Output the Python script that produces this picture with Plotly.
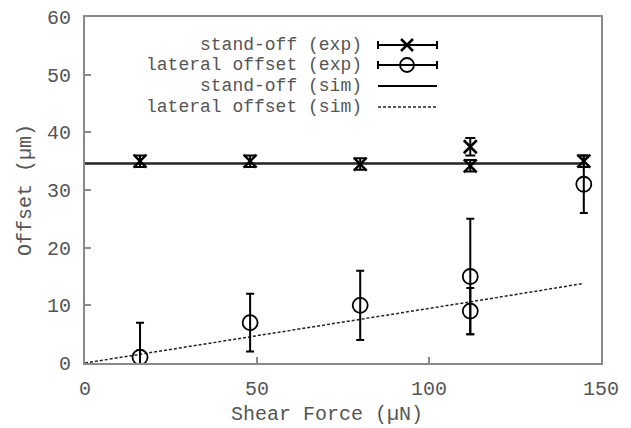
import plotly.graph_objects as go

# ---- data ----
standoff_x = [16, 48, 80, 112, 112, 145]
standoff_y = [35.0, 35.0, 34.5, 37.5, 34.2, 35.0]
standoff_err = [1.0, 1.0, 1.0, 1.5, 1.0, 1.0]

lateral_x = [16, 48, 80, 112, 112, 145]
lateral_y = [1.0, 7.0, 10.0, 15.0, 9.0, 31.0]
lateral_err = [6.0, 5.0, 6.0, 10.0, 4.0, 5.0]

sim_standoff_x = [0, 145]
sim_standoff_y = [34.6, 34.6]

sim_lateral_x = [0, 16, 48, 80, 112, 145]
sim_lateral_y = [0.0, 1.5, 4.5, 7.5, 10.6, 13.8]

legend_labels = ["stand-off (exp)", "lateral offset (exp)", "stand-off (sim)", "lateral offset (sim)"]

FONT = "Liberation Mono"
FS = 20
LFS = 18
TXT = "#555555"
AX = "#8a8a8a"

# page body has an 8px margin; target pixel positions below are in reference coords
OFF = 8
FIG_W, FIG_H = 631 - OFF, 428 - OFF

fig = go.Figure()

fig.add_trace(go.Scatter(x=sim_standoff_x, y=sim_standoff_y, mode="lines",
                         line=dict(color="#222222", width=2.5), showlegend=False))
fig.add_trace(go.Scatter(x=sim_lateral_x, y=sim_lateral_y, mode="lines",
                         line=dict(color="#222222", width=1.5, dash="3px,2px"), showlegend=False))
fig.add_trace(go.Scatter(x=standoff_x, y=standoff_y, mode="markers",
                         marker=dict(symbol="x-thin-open", size=13, color="black",
                                     line=dict(color="black", width=2.5)),
                         error_y=dict(type="data", array=standoff_err, color="black", thickness=2, width=5),
                         showlegend=False))
fig.add_trace(go.Scatter(x=lateral_x, y=lateral_y, mode="markers",
                         marker=dict(symbol="circle-open", size=15, color="black",
                                     line=dict(color="black", width=1.8)),
                         error_y=dict(type="data", array=lateral_err, color="black", thickness=2, width=4),
                         showlegend=False))

# plot area in reference pixel coords
W, H, L, T = 516, 346, 85, 17
def px(xp):
    return (xp - L) / W
def py(yp):
    return (T + H - yp) / H

rows = [45, 65, 86, 107]
text_right = 364
s0, s1, sc = 378, 437, 407
shapes = []
annotations = []
for i, (lab, yy) in enumerate(zip(legend_labels, rows)):
    annotations.append(dict(x=px(text_right), y=py(yy), xref="paper", yref="paper",
                            text=lab, showarrow=False, xanchor="right", yanchor="middle",
                            font=dict(family=FONT, size=LFS, color=TXT)))
    if i < 2:
        shapes.append(dict(type="line", xref="paper", yref="paper", x0=px(s0), x1=px(s1),
                           y0=py(yy), y1=py(yy), line=dict(color="black", width=2)))
        for xe in (s0, s1):
            shapes.append(dict(type="line", xref="paper", yref="paper", x0=px(xe), x1=px(xe),
                               y0=py(yy - 4), y1=py(yy + 4), line=dict(color="black", width=2)))
        if i == 0:
            for d in (1, -1):
                shapes.append(dict(type="line", xref="paper", yref="paper",
                                   x0=px(sc - 6), x1=px(sc + 6), y0=py(yy - 6 * d), y1=py(yy + 6 * d),
                                   line=dict(color="black", width=2.5)))
        else:
            shapes.append(dict(type="circle", xref="paper", yref="paper",
                               x0=px(sc - 7), x1=px(sc + 7), y0=py(yy - 7), y1=py(yy + 7),
                               line=dict(color="black", width=1.8)))
    elif i == 2:
        shapes.append(dict(type="line", xref="paper", yref="paper", x0=px(s0), x1=px(s1),
                           y0=py(yy), y1=py(yy), line=dict(color="black", width=2)))
    else:
        shapes.append(dict(type="line", xref="paper", yref="paper", x0=px(s0), x1=px(s1),
                           y0=py(yy), y1=py(yy), line=dict(color="#222222", width=1.5, dash="3px,2px")))

annotations.append(dict(x=px(327), y=py(414), xref="paper", yref="paper", text="Shear Force (µN)",
                        showarrow=False, xanchor="center", yanchor="middle",
                        font=dict(family=FONT, size=FS, color=TXT)))
annotations.append(dict(x=px(25), y=py(190), xref="paper", yref="paper", text="Offset (µm)",
                        showarrow=False, xanchor="center", yanchor="middle", textangle=-90,
                        font=dict(family=FONT, size=FS, color=TXT)))

fig.update_layout(
    width=FIG_W, height=FIG_H,
    margin=dict(l=L - OFF, r=FIG_W - (L - OFF) - W, t=T - OFF, b=FIG_H - (T - OFF) - H, autoexpand=False),
    paper_bgcolor="white", plot_bgcolor="white",
    shapes=shapes, annotations=annotations,
    font=dict(family=FONT, size=FS, color=TXT),
)
fig.update_xaxes(range=[0, 150], tickvals=[0, 50, 100, 150], ticks="inside", ticklen=6,
                 tickcolor=AX, tickwidth=1.5, showline=True, linecolor=AX, linewidth=2, mirror=True,
                 showgrid=False, zeroline=False, automargin=False, ticklabelstandoff=6,
                 ticklabeloverflow="allow",
                 tickfont=dict(family=FONT, size=FS, color=TXT))
fig.update_yaxes(range=[0, 60], tickvals=[0, 10, 20, 30, 40, 50, 60], ticks="inside", ticklen=6,
                 tickcolor=AX, tickwidth=1.5, showline=True, linecolor=AX, linewidth=2, mirror=True,
                 showgrid=False, zeroline=False, automargin=False, ticklabelstandoff=8,
                 ticklabeloverflow="allow",
                 tickfont=dict(family=FONT, size=FS, color=TXT))

fig.write_html("out.html")
